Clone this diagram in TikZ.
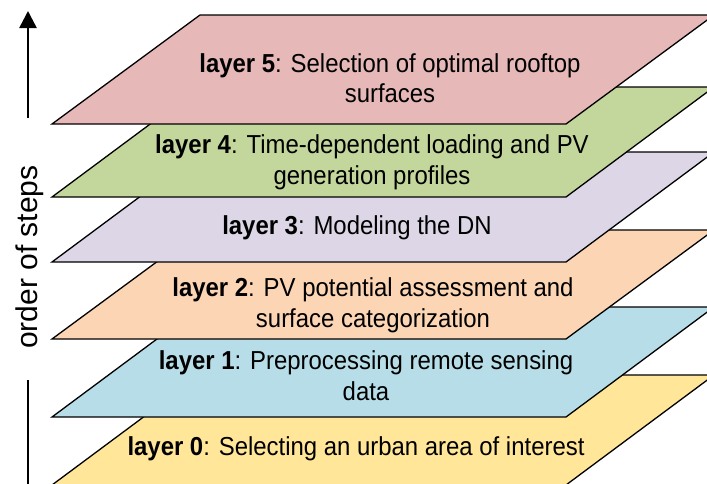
\documentclass[tikz,border=0pt]{standalone}
\usepackage{fontspec}
\setmainfont{Liberation Sans}
\usetikzlibrary{arrows.meta}
\definecolor{cL5}{HTML}{E6B9B8}
\definecolor{cL4}{HTML}{C3D69B}
\definecolor{cL3}{HTML}{DCD6E6}
\definecolor{cL2}{HTML}{FCD5B5}
\definecolor{cL1}{HTML}{B7DEE8}
\definecolor{cL0}{HTML}{FFE699}
\tikzset{
  layerbox/.style={draw=black, line width=1.3pt, line join=miter},
  layertext/.style={align=center, font=\fontsize{26}{30.5}\selectfont, inner sep=0pt, xscale=0.92, transform shape},
  axisline/.style={line width=2.6pt, draw=black},
}
\begin{document}
\begin{tikzpicture}[x=1pt,y=-1pt]
\useasboundingbox (0,0) rectangle (707,483);
\clip (0,0) rectangle (707,483);
% layer 0
\path[layerbox, fill=cL0] (52,485) -- (566,485) -- (714,375) -- (200,375) -- cycle;
% layer 1
\path[layerbox, fill=cL1] (52,417) -- (566,417) -- (714,307) -- (200,307) -- cycle;
% layer 2
\path[layerbox, fill=cL2] (52,339) -- (566,339) -- (714,230) -- (200,230) -- cycle;
% layer 3
\path[layerbox, fill=cL3] (52,262) -- (566,262) -- (714,152) -- (200,152) -- cycle;
% layer 4
\path[layerbox, fill=cL4] (52,197) -- (566,197) -- (714,87) -- (200,87) -- cycle;
% layer 5
\path[layerbox, fill=cL5] (52,124) -- (566,124) -- (714,15) -- (200,15) -- cycle;

\node[layertext] (t0) at (356,449) {\textbf{layer 0}: Selecting an urban area of interest};
\node[layertext] (t1) at (366,375.5) {\textbf{layer 1}: Preprocessing remote sensing\\data};
\node[layertext] (t2) at (373,305.5) {\textbf{layer 2}: PV potential assessment and\\surface categorization};
\node[layertext] (t3) at (357,228) {\textbf{layer 3}: Modeling the DN};
\node[layertext] (t4) at (372,162.5) {\textbf{layer 4}: Time-dependent loading and PV\\generation profiles};
\node[layertext] (t5) at (390,78) {\textbf{layer 5}: Selection of optimal rooftop\\surfaces};

% axis
\node[rotate=90, font=\fontsize{30}{36}\selectfont, inner sep=0pt] (ax) at (30,257) {order of steps};
\coordinate (atop) at (28,11);
\coordinate (abot) at (28,118);
\coordinate (ltop) at (28,380);
\coordinate (lbot) at (28,490);
\draw[axisline, -{Triangle[width=17pt,length=17pt]}] (abot) -- (atop);
\draw[axisline] (ltop) -- (lbot);
\end{tikzpicture}
\end{document}
